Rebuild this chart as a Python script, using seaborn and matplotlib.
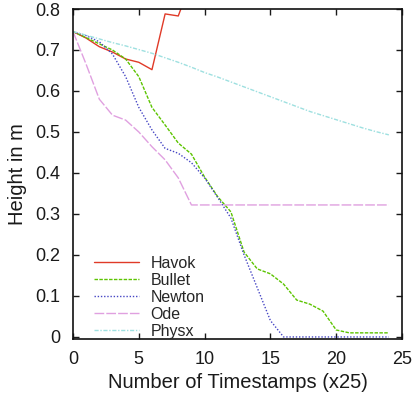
import numpy as np
import pandas as pd
import matplotlib
matplotlib.use("Agg")
import matplotlib.pyplot as plt
import seaborn as sns

sns.set_style("ticks")
plt.rcParams['font.family'] = ['Liberation Sans', 'DejaVu Sans']

# heights, one value per timestamp step
havok_x = [0, 1, 2, 3, 4, 5, 6, 7, 8, 9]
havok = [0.745, 0.729, 0.708, 0.695, 0.678, 0.670, 0.652, 0.788, 0.783, 0.870]

steps = list(range(25))
bullet = [0.745, 0.730, 0.715, 0.700, 0.678, 0.635, 0.560, 0.517, 0.473, 0.446,
          0.390, 0.342, 0.305, 0.207, 0.166, 0.154, 0.129, 0.090, 0.080, 0.063,
          0.017, 0.010, 0.010, 0.010, 0.010]
newton = [0.745, 0.735, 0.720, 0.690, 0.635, 0.560, 0.505, 0.460, 0.448, 0.425,
          0.388, 0.340, 0.290, 0.200, 0.120, 0.040, 0.000, 0.000, 0.000, 0.000,
          0.000, 0.000, 0.000, 0.000, 0.000]
ode = [0.745, 0.665, 0.580, 0.541, 0.529, 0.500, 0.464, 0.432, 0.388, 0.322,
       0.322, 0.322, 0.322, 0.322, 0.322, 0.322, 0.322, 0.322, 0.322, 0.322,
       0.322, 0.322, 0.322, 0.322, 0.322]
physx = [0.745, 0.736, 0.727, 0.718, 0.710, 0.701, 0.692, 0.681, 0.670, 0.658,
         0.645, 0.634, 0.622, 0.610, 0.598, 0.586, 0.574, 0.562, 0.550, 0.540,
         0.530, 0.520, 0.510, 0.501, 0.493]

series = [
    ("Havok", havok_x, havok, "#e03a28", "-"),
    ("Bullet", steps, bullet, "#5cc400", (0, (2.5, 1))),
    ("Newton", steps, newton, "#4646c4", (0, (1, 1.3))),
    ("Ode", steps, ode, "#e0a0e0", (0, (7, 1.5))),
    ("Physx", steps, physx, "#9ee0e0", (0, (3, 1.2, 1, 1.2))),
]

fig = plt.figure(figsize=(4.15, 3.96), dpi=100)
ax = fig.add_axes([73/415, 57/396, 329/415, 330/396])

for name, xs, ys, col, ls in series:
    d = pd.DataFrame({"t": xs, "h": ys})
    sns.lineplot(data=d, x="t", y="h", ax=ax, color=col, linestyle=ls,
                 linewidth=1.0, label=name)

ax.set_xlim(0, 25)
ax.set_ylim(-0.005, 0.8)
ax.set_xticks([0, 5, 10, 15, 20, 25])
ax.set_yticks([0, 0.1, 0.2, 0.3, 0.4, 0.5, 0.6, 0.7, 0.8])
ax.set_yticklabels(["0", "0.1", "0.2", "0.3", "0.4", "0.5", "0.6", "0.7", "0.8"])
ax.tick_params(direction="in", top=True, right=True, length=4, width=1,
               labelsize=13, colors="#1a1a1a")
ax.tick_params(axis="x", pad=9)
ax.tick_params(axis="y", pad=9)
for s in ax.spines.values():
    s.set_linewidth(1.2)
    s.set_color("#111111")
ax.set_xlabel("Number of Timestamps (x25)", fontsize=14.5, color="#1a1a1a", labelpad=3)
ax.set_ylabel("Height in m", fontsize=14.5, color="#1a1a1a", labelpad=6)

ax.legend(loc="lower left", bbox_to_anchor=(0.065, 0.0), frameon=False,
          fontsize=11.5, handlelength=2.8, handletextpad=0.7, labelspacing=0.13,
          borderpad=0, borderaxespad=0)

plt.savefig("out.png", dpi=100)
